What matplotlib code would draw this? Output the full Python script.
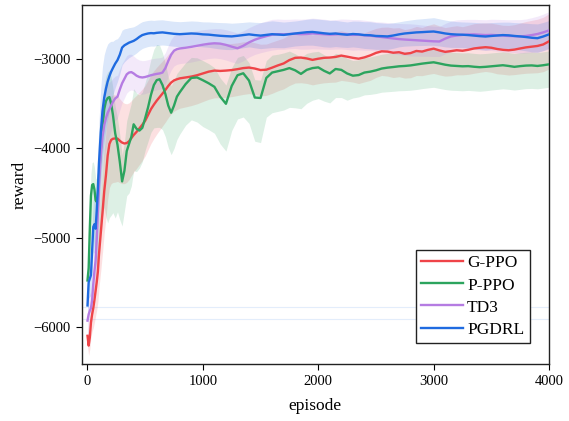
import matplotlib
matplotlib.use("Agg")
import matplotlib.pyplot as plt
import numpy as np

plt.rcParams['font.family'] = ['Liberation Serif', 'DejaVu Serif']
plt.rcParams['mathtext.fontset'] = 'stix'

# episode grid
episodes = ([0, 10, 20, 30, 40, 50, 60, 70, 80, 90, 100,
             115, 130, 145, 160, 175, 190, 205, 220,
             240, 260, 280, 300, 320, 340, 360, 380, 400,
             425, 450, 475, 500, 525, 550, 575, 600, 625, 650, 675, 700, 725, 750, 775, 800,
             850, 900, 950, 1000] + list(range(1050, 4001, 50)))

labels = ["G-PPO", "P-PPO", "TD3", "PGDRL"]

gppo_mean = [-6100, -6210, -6120, -5950, -5860, -5790, -5700, -5600, -5500, -5380, -5180,
             -4950, -4720, -4480, -4300, -4080, -3950, -3905, -3892,
             -3888, -3890, -3915, -3935, -3945, -3940, -3920, -3885, -3850,
             -3815, -3775, -3735, -3690, -3625, -3560, -3510, -3465, -3425, -3385, -3345, -3300, -3262, -3238, -3225, -3215,
             -3205, -3195, -3180, -3160,
             -3140, -3128, -3132, -3128, -3122, -3112, -3100, -3094, -3105, -3122, -3118, -3095, -3070, -3048, -3010, -2985, -2982, -2992, -3008, -2995,
             -2985, -2982, -2975, -2960, -2972, -2985, -2995, -2980, -2958, -2930, -2912, -2915, -2928, -2922, -2940, -2932, -2908, -2915, -2896, -2882,
             -2902, -2918, -2910, -2900, -2906, -2895, -2880, -2872, -2866, -2872, -2886, -2895, -2900, -2893, -2880, -2868, -2860, -2852, -2835, -2800]
gppo_spread = [120, 110, 130, 160, 190, 220, 250, 280, 310, 340, 380,
               420, 450, 470, 480, 490, 490, 490, 490,
               490, 480, 470, 460, 450, 440, 430, 420, 415,
               410, 405, 400, 395, 390, 385, 380, 375, 370, 365, 360, 355, 350, 345, 340, 335,
               330, 325, 320, 315,
               310, 305, 300, 300, 298, 295, 295, 292, 290, 290, 288, 288, 285, 285, 285, 282, 282, 280, 280, 280,
               280, 278, 282, 278, 275, 272, 278, 275, 280, 275, 270, 275, 278, 275, 272, 276, 275, 270, 275, 278,
               275, 272, 276, 275, 270, 275, 278, 275, 272, 275, 278, 275, 278, 280, 285, 290, 295, 300, 305, 310]

pppo_mean = [-5480, -5340, -4900, -4530, -4410, -4400, -4460, -4580, -4600, -4540, -4300,
             -4020, -3760, -3560, -3470, -3435, -3425, -3500, -3620,
             -3830, -3960, -4150, -4370, -4250, -4030, -3950, -3870, -3730,
             -3780, -3800, -3770, -3660, -3540, -3400, -3290, -3235, -3225, -3290, -3390, -3520, -3600, -3520, -3420, -3370,
             -3280, -3210, -3205, -3236,
             -3270, -3310, -3420, -3500, -3300, -3180, -3158, -3240, -3430, -3435, -3210, -3150, -3135, -3120, -3100, -3125, -3165, -3120, -3100, -3092,
             -3130, -3160, -3110, -3120, -3160, -3185, -3178, -3150, -3140, -3125, -3105, -3095, -3088, -3080, -3076, -3070, -3060, -3050, -3042, -3035,
             -3048, -3062, -3072, -3076, -3080, -3078, -3085, -3090, -3086, -3080, -3074, -3068, -3076, -3086, -3078, -3072, -3070, -3076, -3068, -3058]
pppo_up = [150, 200, 250, 250, 250, 250, 250, 250, 250, 250, 250,
           250, 260, 270, 280, 290, 300, 300, 300,
           300, 300, 300, 300, 320, 340, 360, 380, 400,
           400, 400, 400, 400, 400, 400, 400, 400, 380, 360, 340, 320, 300, 280, 260, 250,
           240, 230, 220, 220,
           220, 215, 210, 210, 205, 200, 200, 200, 200, 200, 195, 195, 190, 190, 190, 185, 185, 185, 180, 180,
           180, 175, 175, 175, 170, 170, 170, 165, 165, 165, 160, 160, 160, 160, 155, 155, 155, 155, 150, 150,
           150, 150, 150, 150, 150, 150, 150, 150, 150, 150, 150, 150, 150, 150, 150, 150, 150, 150, 150, 150]
pppo_low = [150, 250, 400, 500, 550, 600, 650, 700, 750, 800, 850,
            900, 1000, 1100, 1300, 1400, 1350, 1250, 1100,
            950, 750, 650, 500, 450, 500, 550, 550, 520,
            480, 420, 380, 360, 380, 420, 480, 530, 540, 500, 480, 470, 470, 480, 480, 470,
            460, 470, 500, 520,
            520, 520, 530, 530, 500, 490, 490, 480, 490, 500, 440, 450, 450, 450, 440, 420, 390, 375, 360, 350,
            340, 330, 320, 310, 300, 250, 245, 250, 255, 260, 265, 270, 272, 274, 276, 278, 280, 280, 280, 280,
            280, 278, 276, 275, 274, 272, 270, 270, 268, 266, 265, 264, 262, 260, 260, 258, 258, 256, 256, 256]

td3_mean = [-5930, -5860, -5820, -5790, -5700, -5520, -5380, -5260, -5020, -4720, -4400,
            -4080, -3870, -3740, -3660, -3600, -3560, -3520, -3480,
            -3440, -3420, -3340, -3270, -3220, -3170, -3150, -3145, -3160,
            -3185, -3200, -3205, -3200, -3190, -3180, -3172, -3165, -3160, -3150, -3100, -3020, -2950, -2905, -2888, -2880,
            -2872, -2862, -2850, -2838,
            -2828, -2822, -2826, -2840, -2860, -2878, -2850, -2812, -2782, -2760, -2742, -2726, -2720, -2722, -2718, -2715, -2720, -2718, -2712, -2716,
            -2720, -2725, -2722, -2718, -2722, -2728, -2726, -2732, -2736, -2745, -2752, -2760, -2768, -2775, -2780, -2784, -2788, -2792, -2796, -2800,
            -2802, -2770, -2745, -2735, -2728, -2724, -2722, -2726, -2730, -2728, -2732, -2736, -2740, -2742, -2745, -2740, -2730, -2718, -2700, -2678]
td3_spread = [200, 200, 190, 190, 210, 250, 290, 330, 360, 380, 400,
              400, 380, 360, 340, 320, 300, 280, 265,
              250, 240, 230, 220, 215, 210, 205, 200, 195,
              192, 190, 188, 186, 184, 182, 180, 178, 176, 175, 174, 173, 172, 171, 170, 170,
              170, 170, 168, 168,
              165, 165, 168, 170, 172, 170, 168, 165, 165, 168, 170, 172, 170, 168, 165, 165, 168, 170, 172, 170,
              168, 165, 165, 168, 170, 172, 170, 168, 165, 165, 168, 170, 172, 175, 178, 180, 178, 175, 172, 170,
              168, 170, 172, 175, 172, 170, 168, 170, 172, 175, 178, 180, 182, 185, 188, 190, 195, 200, 205, 210]

pgdrl_mean = [-5760, -5500, -5460, -5420, -5150, -4880, -4850, -4900, -4700, -4450, -4150,
              -3820, -3580, -3430, -3330, -3250, -3190, -3140, -3100,
              -3050, -3010, -2950, -2870, -2845, -2830, -2815, -2805, -2795,
              -2775, -2750, -2730, -2720, -2712, -2708, -2710, -2705, -2702, -2700, -2704, -2708, -2712, -2716, -2718, -2720,
              -2716, -2712, -2715, -2722,
              -2725, -2732, -2738, -2742, -2745, -2738, -2730, -2722, -2730, -2736, -2728, -2720, -2724, -2728, -2720, -2712, -2705, -2698, -2695, -2702,
              -2710, -2716, -2712, -2720, -2726, -2718, -2722, -2730, -2732, -2740, -2742, -2745, -2735, -2722, -2712, -2706, -2700, -2697, -2693, -2690,
              -2700, -2712, -2720, -2724, -2726, -2730, -2736, -2742, -2746, -2740, -2735, -2730, -2733, -2740, -2745, -2752, -2760, -2765, -2746, -2722]
pgdrl_spread = [150, 180, 200, 230, 260, 290, 320, 350, 380, 420, 460,
                500, 500, 480, 450, 420, 380, 340, 300,
                270, 240, 215, 195, 185, 175, 168, 162, 158,
                155, 152, 150, 148, 146, 145, 144, 143, 142, 141, 140, 140, 140, 140, 140, 140,
                140, 140, 140, 140,
                142, 145, 148, 150, 148, 145, 142, 140, 143, 146, 148, 150, 147, 144, 142, 140, 142, 145, 148, 150,
                152, 150, 147, 145, 143, 145, 148, 150, 152, 150, 148, 145, 143, 140, 142, 145, 148, 150, 152, 155,
                152, 150, 148, 145, 143, 145, 148, 150, 152, 150, 148, 145, 148, 150, 152, 155, 158, 160, 158, 155]

faint_levels = [-5775, -5910]

colors = ["#ef4448", "#2ca45e", "#b57ce2", "#1f6be0"]

x = np.array(episodes)
means = [np.array(gppo_mean), np.array(pppo_mean), np.array(td3_mean), np.array(pgdrl_mean)]
lows = [means[0] - np.array(gppo_spread), means[1] - np.array(pppo_low),
        means[2] - np.array(td3_spread), means[3] - np.array(pgdrl_spread)]
highs = [means[0] + np.array(gppo_spread), means[1] + np.array(pppo_up),
         means[2] + np.array(td3_spread), means[3] + np.array(pgdrl_spread)]

fig = plt.figure(figsize=(5.69, 4.21), dpi=100)
ax = fig.add_axes([81.5 / 569, 1 - 364 / 421, (549 - 81.5) / 569, (364 - 5) / 421])

for lv in faint_levels:
    ax.axhline(lv, color="#1f6be0", alpha=0.12, lw=0.8, zorder=1)

for lo, hi, c in zip(lows, highs, colors):
    ax.fill_between(x, lo, hi, color=c, alpha=0.16, lw=0, zorder=2)

for m, c, lab in zip(means, colors, labels):
    ax.plot(x, m, color=c, lw=1.7, label=lab, zorder=3)

ax.set_xlim(-52, 4000)
ax.set_ylim(-6416, -2393)
ax.set_xticks([0, 1000, 2000, 3000, 4000])
ax.set_yticks([-6000, -5000, -4000, -3000])
ax.tick_params(labelsize=10.5, direction="out", length=4, width=0.8, pad=4)
ax.set_xlabel("episode", fontsize=12.5, labelpad=7)
ax.set_ylabel("reward", fontsize=12.5, labelpad=4)
for s in ax.spines.values():
    s.set_linewidth(1.0)
    s.set_color("#222222")

leg = ax.legend(loc="lower right", bbox_to_anchor=(0.959, 0.058), borderaxespad=0,
                fontsize=12.5, frameon=True, fancybox=False, framealpha=1,
                edgecolor="#222222", handlelength=2.4, handletextpad=0.25,
                labelspacing=0.34, borderpad=0.32)
leg.get_frame().set_linewidth(1.0)

fig.savefig("out.png", dpi=100)
